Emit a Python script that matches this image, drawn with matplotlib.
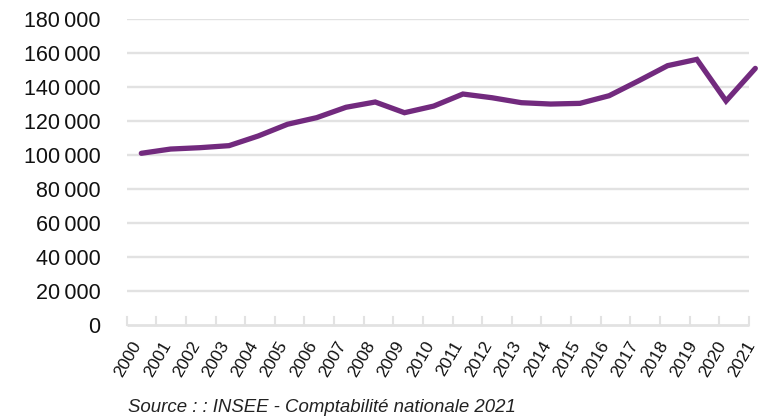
import numpy as np
import matplotlib
matplotlib.use("Agg")
import matplotlib.pyplot as plt
from matplotlib.transforms import ScaledTranslation

plt.rcParams['font.family'] = ['Liberation Sans', 'DejaVu Sans']

years = [str(y) for y in range(2000, 2022)]
values = [101100, 103600, 104400, 105600, 111300, 118200, 122100, 128200,
          131300, 125000, 128900, 136000, 133800, 130900, 130100, 130500,
          135000, 143700, 152700, 156400, 131900, 151100]
y_ticks = [0, 20000, 40000, 60000, 80000, 100000, 120000, 140000, 160000, 180000]
source = "Source : : INSEE - Comptabilité nationale 2021"

grid_col = '#e2e2e2'
line_col = '#722a7e'


def fmt(v):
    return f"{v:,}".replace(",", "\u2009")


fig = plt.figure(figsize=(7.7, 4.16), dpi=100)
ax = fig.add_axes([126.7 / 770, 91 / 416, (767 - 126.7) / 770, (396.7 - 91) / 416])

x = np.arange(len(years))
x_left, x_right = -0.5, 20.78

# gridlines drawn by hand so they stop where the original does
ax.hlines(y_ticks[1:], x_left, x_right, color=grid_col, lw=1.7, zorder=1)
ax.hlines(0, x_left, x_right, color=grid_col, lw=2.0, zorder=1, clip_on=False)
for t in np.linspace(x_left, x_right, len(years)):
    ax.plot([t, t], [0, 4500], color=grid_col, lw=1.5, zorder=1, clip_on=False)

ax.plot(x, values, color=line_col, lw=3.8, solid_capstyle='round',
        solid_joinstyle='miter', zorder=3, clip_on=False)

ax.set_xlim(-0.5, 21.4)
ax.set_ylim(0, 180000)
for s in ax.spines.values():
    s.set_visible(False)

ax.set_yticks(y_ticks)
ax.set_yticklabels([fmt(v) for v in y_ticks], fontsize=15.5, color='#111111')
ax.set_xticks(x)
ax.set_xticklabels(years, rotation=60, ha='right', fontsize=12.5, color='#111111')
ax.tick_params(axis='y', length=0, pad=19)
ax.tick_params(axis='x', length=0, pad=10)
shift = ScaledTranslation(3 / 100, 0, fig.dpi_scale_trans)
for lab in ax.get_xticklabels():
    lab.set_transform(lab.get_transform() + shift)

fig.text(128 / 770, 1 - 407 / 416, source, fontsize=13.4, style='italic',
         color='#222222', va='center', ha='left')

fig.savefig('out.png', dpi=100)
